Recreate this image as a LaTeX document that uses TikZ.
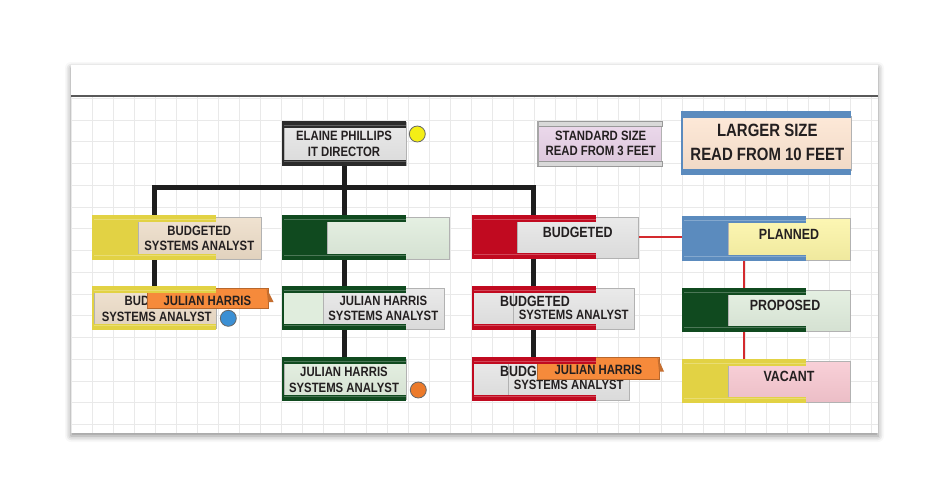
\documentclass[tikz,border=0pt]{standalone}
\usepackage{fontspec}
\setmainfont{Liberation Sans}[FakeStretch=0.84]
\usetikzlibrary{shadows.blur}
\definecolor{txt}{HTML}{231F20}
\definecolor{yel}{HTML}{E2D244}
\definecolor{beige}{HTML}{EDDDC8}
\definecolor{dgreen}{HTML}{104A1F}
\definecolor{lgreen}{HTML}{E0EDDD}
\definecolor{rred}{HTML}{C10A20}
\definecolor{lgray}{HTML}{E6E6E6}
\definecolor{bblue}{HTML}{5B8BBE}
\definecolor{lyel}{HTML}{FCF5A6}
\definecolor{pinkc}{HTML}{F8C8D1}
\definecolor{lav}{HTML}{E8D2E8}
\definecolor{peach}{HTML}{FDE5D1}
\definecolor{orng}{HTML}{F68A3B}
\definecolor{blk}{HTML}{1E1E1E}
\definecolor{dframe}{HTML}{2B2B2B}
\definecolor{redc}{HTML}{D42A2E}
\definecolor{gridc}{HTML}{E9E9E9}
\definecolor{dotblue}{HTML}{3B8FD4}
\definecolor{dotorange}{HTML}{EC7A2A}
\definecolor{dotyellow}{HTML}{F4EE16}
\newcommand\hframe[4]{%
  \fill[#4] (#1,#2) rectangle ++(124,6.5);
  \fill[#4] (#1,#2+#3-6.5) rectangle ++(124,6.5);
  \fill[#4] (#1,#2) rectangle ++(2.2,#3);
  \draw[#4!75!white, line width=0.7pt] (#1+2.2,#2+4.8) -- ++(121.8,0);
  \draw[#4!75!white, line width=0.7pt] (#1+2.2,#2+#3-4.8) -- ++(121.8,0);
}
\begin{document}
\begin{tikzpicture}[x=1pt,y=-1pt,
  lbl/.style={font=\fontsize{13.5}{16}\selectfont\bfseries, text=txt, inner sep=0pt, anchor=base},
  lblb/.style={font=\fontsize{14.8}{17}\selectfont\bfseries, text=txt, inner sep=0pt, anchor=base},
  lblx/.style={font=\fontsize{17.8}{20}\selectfont\bfseries, text=txt, inner sep=0pt, anchor=base},
  hold/.style={anchor=north west, minimum width=124pt, minimum height=#1, inner sep=0pt, outer sep=0pt},
  pan/.style={draw=black!30, line width=0.5pt, top color=#1!85!white, bottom color=#1!95!black},
  bus/.style={draw=blk, line width=5pt},
  rline/.style={draw=redc, line width=2pt},
  gridln/.style={draw=gridc, line width=0.9pt},
  circ/.style={circle, minimum size=16pt, inner sep=0pt, line width=0.8pt},
  tagc/.style={fill=orng, draw=orng!75!black, line width=0.4pt},
]
\useasboundingbox (0,0) rectangle (950,498);
% paper
\fill[white, blur shadow={shadow xshift=0pt, shadow yshift=-3pt, shadow blur radius=6pt, shadow opacity=45}] (71,65) rectangle (878,433);
\foreach \i in {0,...,38} \draw[gridln] ({71+21.07*\i},96) -- ++(0,337);
\foreach \k in {0,...,15} \draw[gridln] (71,{98.25+21.75*\k}) -- (878,{98.25+21.75*\k});
\draw[black!65, line width=1.2pt] (71,96) -- (878,96);

% holder anchors
\node[hold=45pt] (ep) at (282,121) {};
\node[anchor=north west, minimum width=125pt, minimum height=45pt, inner sep=0pt] (sd) at (537,121) {};
\node[anchor=north west, minimum width=170pt, minimum height=64pt, inner sep=0pt] (lg) at (681,111) {};
\node[hold=45pt] (ya) at (92,215) {};
\node[hold=45pt] (ga) at (282,215) {};
\node[hold=44pt] (ra) at (471.5,215) {};
\node[hold=45pt] (pl) at (682,216) {};
\node[hold=44pt] (pr) at (682,288) {};
\node[hold=44pt] (va) at (682,359) {};
\node[hold=44pt] (yb) at (92,286) {};
\node[hold=44pt] (gb) at (282,286) {};
\node[hold=44pt] (rb) at (471.5,286) {};
\node[hold=44pt] (gc) at (282,357) {};
\node[hold=44pt] (rc) at (471.5,357) {};
\coordinate (busY) at (0,187.5);

% connectors
\draw[bus] (ep.south) -- (ep.south |- busY);
\draw[bus] (yb.north) -- (ya.north |- busY) -- (ra.north |- busY) -- (rc.north);
\draw[bus] (ga.north |- busY) -- (gc.north);
\draw[rline] (ra.east) -- (pl.west |- ra.east);
\draw[rline] (pl.south) -- (va.north);

% Elaine Phillips
\fill[pan=lgray] (284,122) rectangle (406,165);
\node[lbl] (ept1) at (344,140.5) {ELAINE PHILLIPS};
\node[lbl] (ept2) at (344,156.5) {IT DIRECTOR};
\hframe{282}{121}{45}{dframe}
\node[circ, fill=dotyellow, draw=black!60] (epd) at (417.3,134) {};

% standard size
\fill[pan=lav] (538,124) rectangle (661,163);
\filldraw[fill=black!15, draw=black!40, line width=0.5pt] (537,121) rectangle (662,126);
\filldraw[fill=black!15, draw=black!40, line width=0.5pt] (537,161) rectangle (662,166);
\fill[black!35] (537,121) rectangle (538.5,166);
\node[lbl] (sdt1) at (600.7,140.5) {STANDARD SIZE};
\node[lbl] (sdt2) at (600.7,155.8) {READ FROM 3 FEET};

% larger size
\fill[pan=peach] (682,116) rectangle (851,170);
\fill[bblue] (681,111) rectangle (851,117.5);
\fill[bblue] (681,168.5) rectangle (851,175);
\fill[bblue] (681,111) rectangle (682.5,175);
\node[lblx] (lgt1) at (767.3,136.7) {LARGER SIZE};
\node[lblx] (lgt2) at (767.3,160.7) {READ FROM 10 FEET};

% yellow a
\fill[pan=beige] (138,217) rectangle (261,259);
\node[lbl] (yat1) at (199.3,235.5) {BUDGETED};
\node[lbl] (yat2) at (199.3,250.8) {SYSTEMS ANALYST};
\fill[yel] (92,215) rectangle (138,260);
\hframe{92}{215}{45}{yel}

% green a
\fill[pan=lgreen] (327,217) rectangle (449,259);
\fill[dgreen] (282,215) rectangle (327,260);
\hframe{282}{215}{45}{dgreen}

% red a
\fill[pan=lgray] (517,217) rectangle (638,258);
\node[lblb] (rat1) at (577.7,237) {BUDGETED};
\fill[rred] (471.5,215) rectangle (517,259);
\hframe{471.5}{215}{44}{rred}

% planned
\fill[pan=lyel] (728,218) rectangle (850,260);
\node[lblb] (plt) at (789,239) {PLANNED};
\fill[bblue] (682,216) rectangle (728,261);
\hframe{682}{216}{45}{bblue}

% proposed
\fill[pan=lgreen] (728,290) rectangle (850,331);
\node[lblb] (prt) at (785,310.3) {PROPOSED};
\fill[dgreen] (682,288) rectangle (728,332);
\hframe{682}{288}{44}{dgreen}

% vacant
\fill[pan=pinkc] (728,361) rectangle (850,402);
\node[lblb] (vat) at (789,381) {VACANT};
\fill[yel] (682,359) rectangle (728,403);
\hframe{682}{359}{44}{yel}

% yellow b
\fill[pan=beige] (94,288) rectangle (216,328);
\node[lbl, anchor=base west] (ybt1) at (124.5,305.8) {BUD};
\node[lbl] (ybt2) at (156.7,321.5) {SYSTEMS ANALYST};
\fill[tagc] (147,288) rectangle (268,308);
\fill[orng!80!black] (266.5,288) -- (273.5,302) -- (268,302) -- cycle;
\node[lbl] (ybtag) at (207.3,305.5) {JULIAN HARRIS};
\hframe{92}{286}{44}{yel}
\node[circ, fill=dotblue, draw=black!60] (ybd) at (228.3,318.3) {};

% green b
\fill[lgreen] (284,288) rectangle (324,328);
\fill[pan=lgray] (323,288) rectangle (444,329);
\node[lbl] (gbt1) at (383.3,305.5) {JULIAN HARRIS};
\node[lbl] (gbt2) at (383.3,320.8) {SYSTEMS ANALYST};
\hframe{282}{286}{44}{dgreen}

% red b
\fill[pan=lgray] (473,288) rectangle (595,328);
\fill[pan=lgray] (513,288) rectangle (634,329);
\node[lblb] (rbt1) at (535,306) {BUDGETED};
\node[lbl] (rbt2) at (573.7,319.1) {SYSTEMS ANALYST};
\hframe{471.5}{286}{44}{rred}

% green c
\fill[pan=lgreen] (284,359) rectangle (406,399);
\node[lbl] (gct1) at (344,376.5) {JULIAN HARRIS};
\node[lbl] (gct2) at (344,392.1) {SYSTEMS ANALYST};
\hframe{282}{357}{44}{dgreen}
\node[circ, fill=dotorange, draw=black!60] (gcd) at (418.3,390) {};

% red c
\fill[pan=lgray] (473,359) rectangle (595,399);
\fill[pan=lgray] (508,359) rectangle (629,400);
\node[lblb, anchor=base west] (rct1) at (500,376) {BUDG};
\node[lbl] (rct2) at (568.7,389.8) {SYSTEMS ANALYST};
\fill[tagc] (537,357) rectangle (659,379);
\fill[orng!80!black] (657.5,357) -- (664,371.5) -- (659,371.5) -- cycle;
\node[lbl] (rctag) at (598.3,374.8) {JULIAN HARRIS};
\hframe{471.5}{357}{44}{rred}
\end{tikzpicture}
\end{document}
